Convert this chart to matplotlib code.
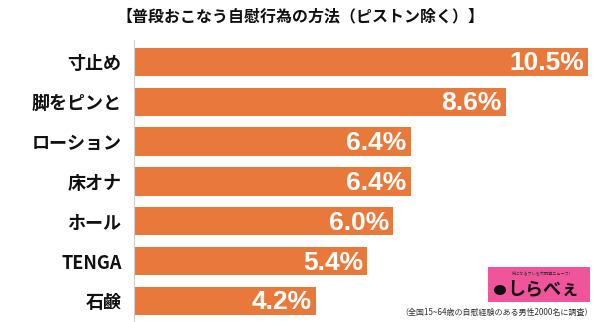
import matplotlib
matplotlib.use("Agg")
import matplotlib.pyplot as plt
from matplotlib.patches import Rectangle, Ellipse

plt.rcParams['font.family'] = ['Noto Sans CJK JP', 'DejaVu Sans']

categories = ["寸止め", "脚をピンと", "ローション", "床オナ", "ホール", "TENGA", "石鹸"]
values = [10.5, 8.6, 6.4, 6.4, 6.0, 5.4, 4.2]
value_labels = ["10.5%", "8.6%", "6.4%", "6.4%", "6.0%", "5.4%", "4.2%"]
title = "【普段おこなう自慰行為の方法（ピストン除く）】"
footnote = "（全国15~64歳の自慰経験のある男性2000名に調査）"

W, H = 600, 322
fig = plt.figure(figsize=(W / 100, H / 100), dpi=100)
fig.patch.set_facecolor("white")

ax = fig.add_axes([134 / W, 1 - 322 / H, (588 - 134) / W, (322 - 40) / H])
bar_color = "#E8793A"
y = list(range(len(categories)))
ax.barh(y, values, height=0.71, color=bar_color, align="center")
ax.set_xlim(0, 10.5)
ax.set_ylim(6.53, -0.55)
ax.set_yticks(y)
ax.set_yticklabels(categories, fontsize=13, fontweight="bold", color="#111111")
ax.tick_params(axis="y", length=0, pad=9)
ax.set_xticks([])
for s in ["top", "right", "bottom"]:
    ax.spines[s].set_visible(False)
ax.spines["left"].set_color("#d0d0d0")
ax.spines["left"].set_linewidth(0.8)

for yi, v, lab in zip(y, values, value_labels):
    ax.text(v - 0.1, yi + 0.04, lab, ha="right", va="center", color="white",
            fontsize=19, fontweight="bold", family=["Liberation Sans", "DejaVu Sans"])

fig.text(0.5, 1 - 16 / H, title, ha="center", va="center", fontsize=11.5,
         fontweight="bold", color="#111111")

# logo
fig.patches.append(Rectangle((488 / W, 1 - 302 / H), (590 - 488) / W, 35 / H,
                             transform=fig.transFigure, facecolor="#F0549B",
                             edgecolor="none"))
fig.patches.append(Ellipse((500 / W, 1 - 290 / H), 12 / W, 10 / H,
                           transform=fig.transFigure, facecolor="#111111",
                           edgecolor="none"))
fig.text(541 / W, 1 - 273 / H, "気になるアレを大調査ニュース!", ha="center", va="center",
         fontsize=3, color="#333333")
fig.text(543 / W, 1 - 289 / H, "しらべぇ", ha="center", va="center",
         fontsize=13, fontweight="bold", color="#111111")
fig.text(593 / W, 1 - 312 / H, footnote, ha="right", va="center",
         fontsize=5.8, color="#333333")

fig.savefig("out.png", dpi=100)
